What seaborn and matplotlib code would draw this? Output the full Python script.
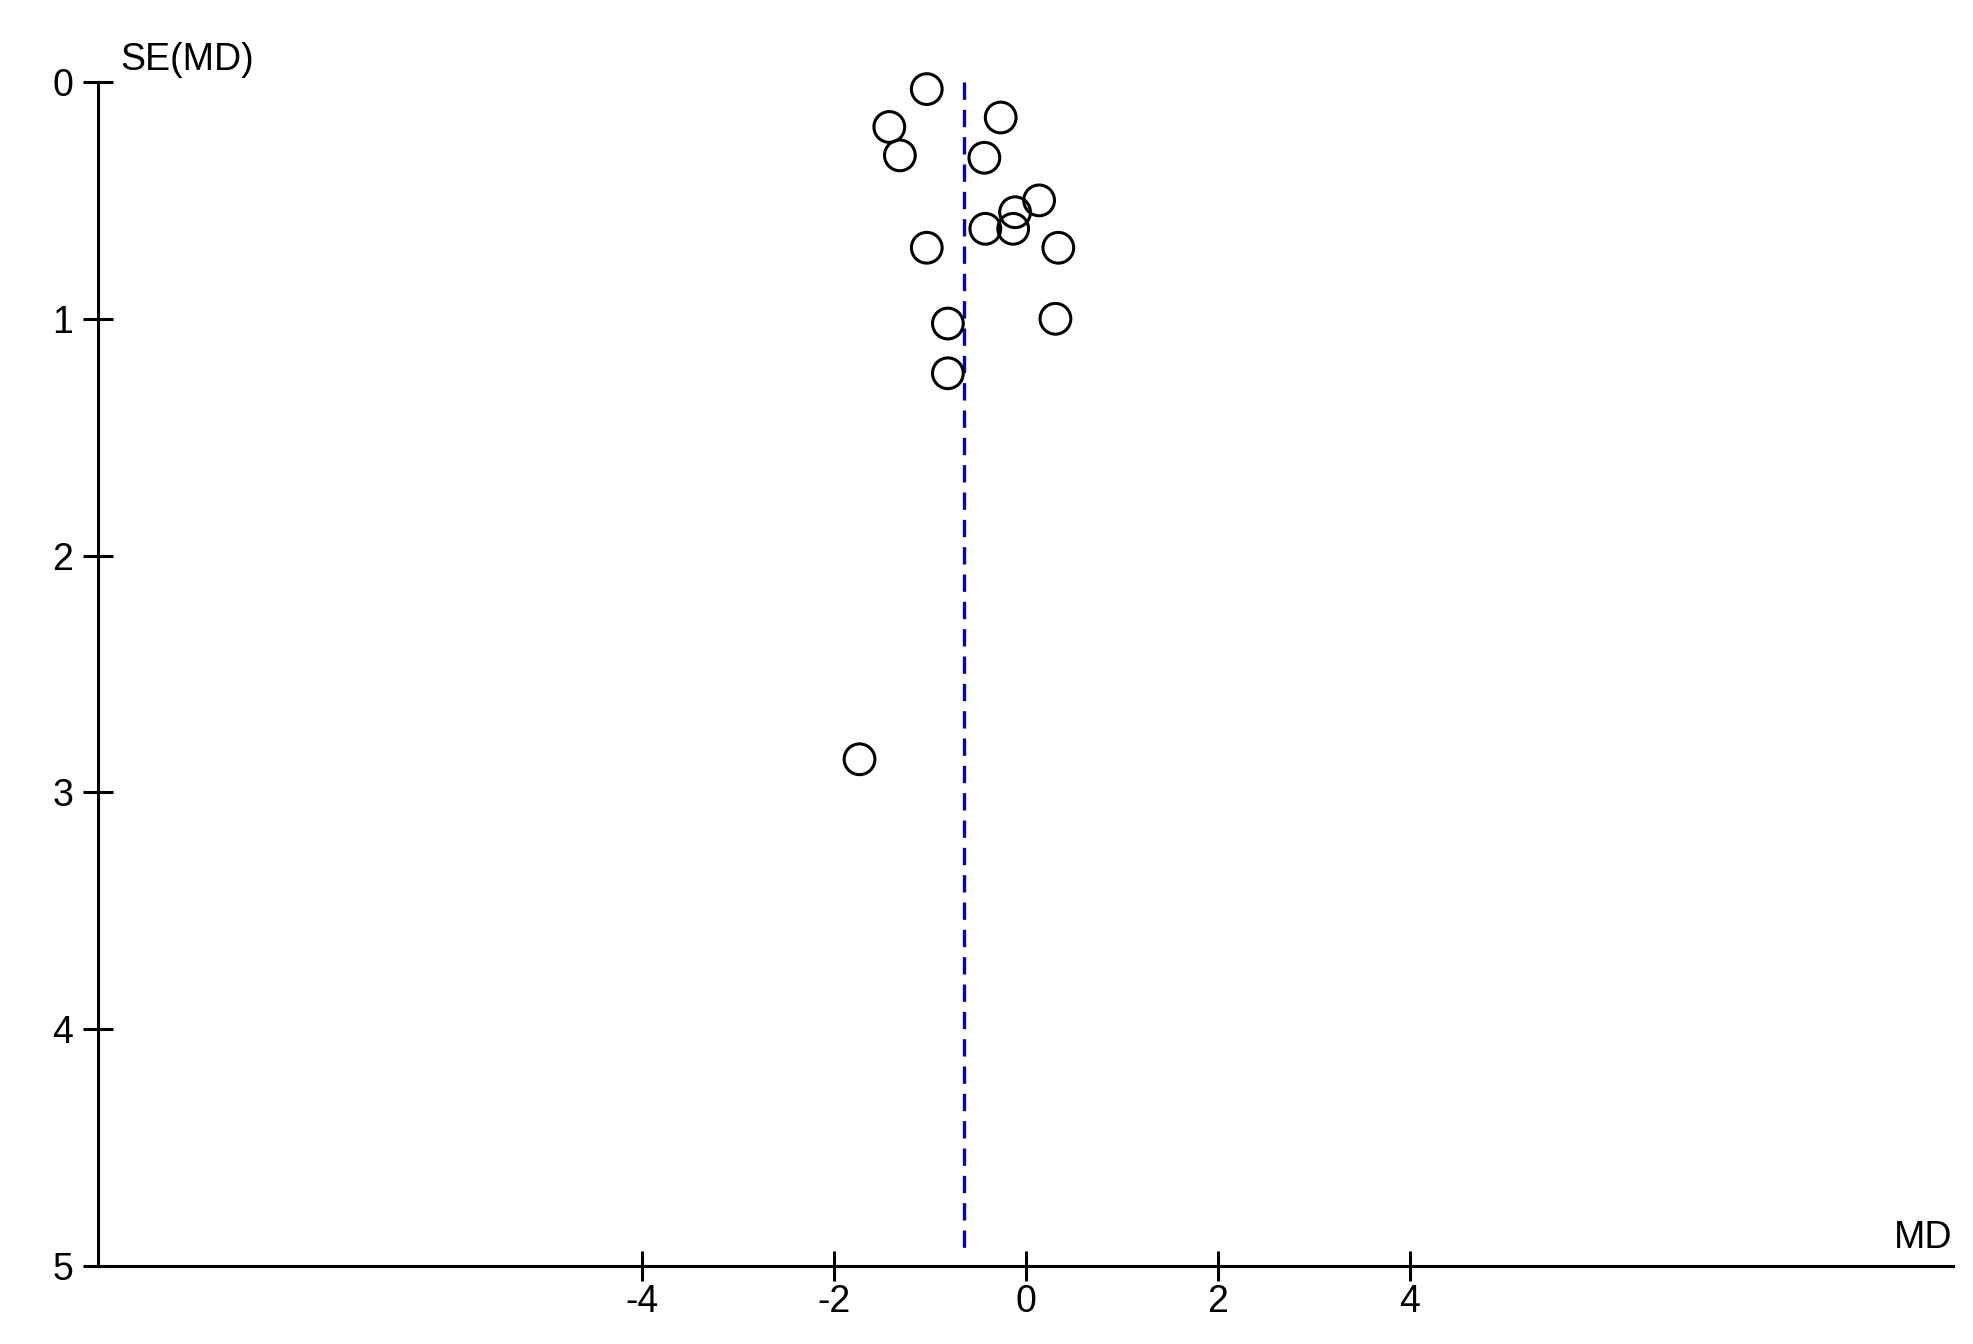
import matplotlib
matplotlib.use("Agg")
import matplotlib.pyplot as plt
import seaborn as sns
import pandas as pd

# Funnel plot data (mean difference vs its standard error)
md = [-1.03, -0.26, -1.42, -1.31, -0.43, 0.14, -0.11, -0.13, -0.42,
      -1.03, 0.34, -0.81, 0.31, -0.81, -1.73]
se_md = [0.03, 0.15, 0.19, 0.31, 0.32, 0.50, 0.55, 0.62, 0.62,
         0.70, 0.70, 1.02, 1.00, 1.23, 2.86]
pooled_md = -0.64
x_ticks = [-4, -2, 0, 2, 4]
y_ticks = [0, 1, 2, 3, 4, 5]
x_range = (-9.66, 9.66)
y_range = (0, 5)

df = pd.DataFrame({"MD": md, "SE": se_md})

sns.set_style("white")
plt.rcParams['font.family'] = ['Liberation Sans', 'DejaVu Sans']
plt.rcParams['text.color'] = 'black'

fig = plt.figure(figsize=(19.73, 13.44), dpi=100)
ax = fig.add_axes([0.0497, 0.058, 0.9403, 0.881])

# pooled estimate line
ax.plot([pooled_md, pooled_md], [0, 4.95], color="#0000cc", lw=2.4,
        dashes=(5.2, 3.0), zorder=1)

sns.scatterplot(data=df, x="MD", y="SE", ax=ax, marker="o", s=490,
                facecolor="none", edgecolor="black", linewidth=2.2,
                clip_on=False, zorder=3)

ax.set_xlim(*x_range)
ax.set_ylim(y_range[1], y_range[0])
ax.set_xticks(x_ticks)
ax.set_yticks(y_ticks)
ax.set_xticklabels([str(t) for t in x_ticks])
ax.set_yticklabels([str(t) for t in y_ticks])
ax.set_xlabel("")
ax.set_ylabel("")

for side in ["top", "right"]:
    ax.spines[side].set_visible(False)
for side in ["left", "bottom"]:
    ax.spines[side].set_linewidth(2.2)
    ax.spines[side].set_color("black")

ax.tick_params(axis="both", direction="inout", length=21.6, width=2.2,
               labelsize=27, colors="black", bottom=True, left=True)
ax.tick_params(axis="y", pad=7)
ax.tick_params(axis="x", pad=2)

fig.text(0.0608, 0.948, "SE(MD)", fontsize=27, ha="left", va="baseline")
fig.text(0.9893, 0.0714, "MD", fontsize=27, ha="right", va="baseline")

fig.savefig("out.png", dpi=100, facecolor="white")
